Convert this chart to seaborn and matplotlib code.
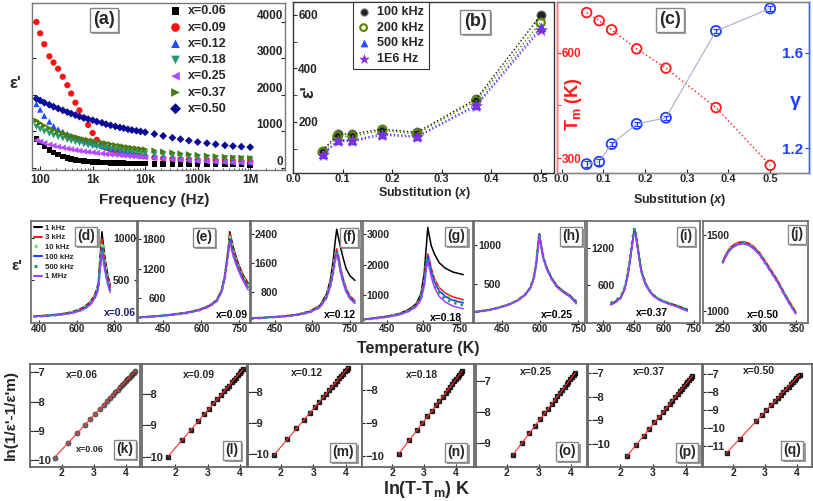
import matplotlib
matplotlib.use('Agg')
import matplotlib.pyplot as plt
import matplotlib.patheffects as pe
from matplotlib.lines import Line2D
import seaborn as sns

# ---------------- data: panel (a) ----------------
freq = [85, 100, 120, 150, 180, 220, 270, 330, 390, 470, 560, 680, 820, 1000, 1200,
        1500, 1800, 2200, 2700, 3300, 3900, 4700, 5600, 6800, 8200, 10000, 15000,
        22000, 33000, 47000, 68000, 100000, 150000, 220000, 330000, 470000, 680000, 1000000]
a_x006 = [800, 700, 600, 500, 430, 370, 320, 280, 250, 225, 205, 190, 178, 168, 160, 153, 147, 142, 138,
          134, 131, 128, 126, 124, 122, 120, 116, 113, 110, 107, 104, 101, 98, 96, 94, 92, 90, 88]
a_x009 = [4000, 3690, 3390, 3060, 2890, 2720, 2500, 2270, 2040, 1790, 1580, 1380, 1180, 960, 770, 620, 550,
          500, 470, 445, 425, 410, 390, 360, 335, 320, 290, 265, 250, 240, 230, 220, 210, 200, 195, 190, 185, 180]
a_x012 = [1750, 1600, 1430, 1270, 1150, 1060, 990, 930, 880, 840, 800, 760, 720, 690, 650, 610, 580, 550,
          520, 490, 470, 450, 430, 410, 390, 370, 340, 310, 285, 265, 245, 230, 215, 200, 190, 180, 170, 160]
a_x018 = [1130, 1060, 1000, 940, 890, 850, 810, 770, 740, 710, 680, 650, 620, 600, 580, 555, 535, 515,
          495, 475, 460, 445, 430, 415, 400, 390, 370, 350, 335, 320, 305, 295, 285, 275, 268, 262, 256, 250]
a_x025 = [760, 720, 680, 640, 610, 580, 555, 530, 510, 490, 470, 455, 440, 425, 410, 395, 380, 370, 360,
          350, 340, 330, 320, 310, 300, 290, 270, 250, 235, 220, 205, 190, 178, 168, 158, 150, 143, 135]
a_x037 = [1300, 1230, 1160, 1090, 1040, 990, 950, 910, 880, 850, 820, 790, 770, 750, 725, 700, 680, 655,
          630, 610, 590, 570, 555, 540, 525, 510, 480, 450, 425, 400, 380, 360, 340, 320, 305, 290, 280, 270]
a_x050 = [1900, 1850, 1790, 1730, 1680, 1630, 1580, 1530, 1490, 1450, 1410, 1370, 1340, 1310, 1270, 1240,
          1200, 1170, 1140, 1110, 1090, 1060, 1040, 1020, 1000, 980, 930, 880, 830, 790, 750, 710, 680, 650,
          620, 600, 585, 570]
a_labels = ['x=0.06', 'x=0.09', 'x=0.12', 'x=0.18', 'x=0.25', 'x=0.37', 'x=0.50']

# ---------------- data: panel (b) ----------------
sub_x = [0.06, 0.09, 0.12, 0.18, 0.25, 0.37, 0.50]
b_100k = [93, 155, 155, 173, 161, 286, 598]
b_200k = [87, 146, 146, 168, 155, 279, 571]
b_500k = [79, 131, 131, 156, 146, 264, 554]
b_1M = [75, 127, 127, 150, 143, 258, 544]
b_labels = ['100 kHz', '200 kHz', '500 kHz', '1E6 Hz']

# ---------------- data: panel (c) ----------------
c_Tm = [714, 691, 665, 611, 556, 444, 280]
c_gamma = [1.134, 1.144, 1.218, 1.302, 1.328, 1.691, 1.785]
c_gamma_err = [0.012, 0.012, 0.008, 0.008, 0.008, 0.008, 0.012]

# ---------------- data: panels (d)-(j) ----------------
freq_labels = ['1 kHz', '3 kHz', '10 kHz', '100 kHz', '500 kHz', '1 MHz']
d_T = [370, 420, 470, 520, 570, 610, 640, 670, 690, 705, 715, 722, 728, 734, 740, 748, 757, 767, 778]
d_eps = [
    [65, 72, 82, 95, 115, 145, 180, 235, 300, 380, 480, 720, 900, 1080, 950, 800, 660, 540, 440],
    [64, 71, 80, 93, 112, 140, 173, 226, 290, 365, 460, 680, 840, 995, 880, 750, 620, 510, 415],
    [63, 70, 79, 91, 110, 137, 169, 220, 285, 355, 450, 660, 810, 955, 850, 725, 600, 495, 405],
    [62, 68, 77, 88, 106, 131, 161, 210, 275, 340, 430, 620, 760, 885, 790, 680, 565, 465, 385],
    [61, 67, 75, 86, 103, 127, 156, 203, 268, 330, 420, 600, 730, 845, 760, 650, 540, 445, 365],
    [60, 66, 74, 85, 101, 124, 152, 198, 262, 322, 410, 585, 710, 825, 740, 630, 525, 430, 350]]
e_T = [355, 420, 480, 540, 590, 630, 660, 680, 692, 702, 708, 712, 718, 726, 736, 748, 760, 772, 785]
e_eps = [
    [214, 240, 270, 310, 370, 450, 565, 780, 1060, 1450, 1720, 1955, 1820, 1640, 1460, 1280, 1130, 1010, 905],
    [213, 238, 268, 307, 366, 445, 558, 768, 1040, 1420, 1680, 1910, 1770, 1590, 1420, 1250, 1100, 985, 880],
    [212, 237, 266, 305, 363, 441, 552, 758, 1025, 1400, 1650, 1870, 1735, 1555, 1385, 1220, 1075, 960, 850],
    [211, 235, 264, 302, 360, 437, 546, 748, 1010, 1375, 1610, 1810, 1680, 1510, 1350, 1190, 1050, 935, 820],
    [210, 234, 262, 300, 357, 433, 541, 740, 1000, 1360, 1590, 1780, 1655, 1490, 1330, 1170, 1030, 915, 800],
    [209, 233, 261, 298, 354, 430, 536, 732, 990, 1345, 1570, 1740, 1620, 1460, 1300, 1145, 1005, 890, 770]]
f_T = [355, 420, 480, 540, 590, 630, 657, 672, 683, 690, 697, 704, 712, 722, 735, 750, 770]
f_eps = [
    [71, 100, 130, 180, 270, 430, 756, 1150, 1670, 2150, 2537, 2300, 2050, 1760, 1440, 1250, 1120],
    [70, 98, 127, 175, 260, 410, 700, 1050, 1450, 1800, 2000, 1820, 1500, 1200, 900, 700, 565],
    [69, 97, 125, 172, 255, 400, 690, 1030, 1420, 1760, 1960, 1780, 1460, 1165, 870, 675, 545],
    [68, 95, 122, 168, 248, 390, 670, 1000, 1380, 1700, 1920, 1740, 1420, 1130, 845, 650, 525],
    [67, 94, 120, 165, 243, 382, 655, 980, 1350, 1660, 1880, 1700, 1385, 1100, 820, 630, 505],
    [66, 93, 119, 163, 240, 377, 645, 965, 1330, 1640, 1860, 1670, 1355, 1075, 800, 610, 485]]
g_T = [350, 400, 450, 500, 540, 570, 590, 603, 612, 618, 624, 632, 645, 665, 690, 720, 763]
g_eps = [
    [205, 260, 320, 400, 540, 720, 1050, 1700, 2600, 3218, 2950, 2620, 2350, 2060, 1880, 1760, 1675],
    [204, 255, 310, 385, 510, 670, 950, 1450, 2100, 2350, 2200, 1900, 1550, 1250, 1070, 950, 857],
    [203, 252, 305, 378, 500, 655, 920, 1400, 2030, 2280, 2120, 1820, 1470, 1170, 990, 870, 780],
    [202, 250, 302, 374, 495, 648, 905, 1380, 2000, 2275, 2100, 1790, 1440, 1140, 960, 840, 750],
    [201, 247, 298, 368, 487, 635, 880, 1340, 1940, 2165, 2000, 1700, 1360, 1060, 880, 760, 675],
    [200, 244, 294, 362, 480, 625, 860, 1300, 1880, 2100, 1920, 1610, 1260, 960, 780, 650, 560]]
h_T = [346, 400, 444, 480, 510, 540, 562, 575, 585, 592, 597, 603, 612, 626, 645, 665, 690, 718, 742]
h_eps = [
    [139, 165, 202, 240, 286, 360, 456, 580, 780, 1000, 1150, 1030, 860, 710, 580, 480, 410, 350, 275],
    [138, 164, 201, 239, 285, 358, 453, 576, 775, 992, 1145, 1025, 855, 705, 576, 476, 405, 345, 268],
    [138, 164, 200, 238, 284, 357, 451, 574, 772, 988, 1140, 1020, 851, 702, 573, 473, 402, 341, 262],
    [137, 163, 199, 237, 283, 355, 448, 570, 766, 980, 1130, 1012, 845, 697, 568, 469, 398, 337, 256],
    [138, 164, 201, 239, 285, 358, 453, 578, 778, 996, 1160, 1035, 860, 708, 577, 475, 403, 340, 258],
    [136, 162, 198, 236, 281, 352, 445, 566, 760, 970, 1120, 1004, 838, 690, 562, 463, 393, 332, 245]]
i_T = [337, 360, 386, 405, 419, 432, 442, 450, 455, 461, 470, 482, 492, 510, 530, 548, 580, 620, 660, 717]
i_eps = [
    [300, 340, 404, 540, 736, 1000, 1250, 1430, 1486, 1420, 1220, 950, 789, 620, 510, 441, 370, 320, 280, 213],
    [295, 335, 400, 535, 728, 990, 1235, 1410, 1465, 1400, 1205, 940, 780, 613, 505, 436, 365, 314, 273, 205],
    [310, 350, 412, 548, 745, 1010, 1262, 1445, 1500, 1432, 1228, 955, 792, 622, 512, 443, 371, 320, 278, 208],
    [290, 330, 396, 530, 720, 980, 1222, 1395, 1450, 1386, 1195, 932, 774, 608, 500, 432, 361, 310, 268, 198],
    [315, 355, 416, 552, 750, 1015, 1270, 1455, 1510, 1440, 1232, 958, 794, 623, 512, 442, 369, 317, 274, 200],
    [285, 325, 392, 525, 712, 970, 1210, 1380, 1430, 1370, 1185, 925, 768, 602, 495, 427, 355, 303, 260, 185]]
j_T = [250, 255, 260, 266, 272, 278, 285, 292, 300, 308, 316, 324, 332, 340, 349]
j_eps = [
    [1324, 1375, 1413, 1435, 1448, 1452, 1443, 1420, 1380, 1322, 1262, 1202, 1130, 1062, 991],
    [1328, 1380, 1418, 1441, 1454, 1458, 1449, 1426, 1386, 1328, 1268, 1208, 1136, 1068, 996],
    [1322, 1372, 1410, 1432, 1445, 1449, 1440, 1417, 1377, 1319, 1259, 1199, 1127, 1059, 988],
    [1320, 1370, 1408, 1430, 1443, 1447, 1438, 1415, 1375, 1317, 1257, 1197, 1125, 1057, 986],
    [1318, 1368, 1406, 1428, 1441, 1445, 1436, 1413, 1373, 1315, 1255, 1195, 1123, 1055, 984],
    [1316, 1366, 1404, 1426, 1439, 1443, 1434, 1411, 1371, 1313, 1253, 1193, 1121, 1053, 982]]

# ---------------- data: panels (k)-(q) ----------------
k_x = [1.79, 2.20, 2.48, 2.71, 2.89, 3.04, 3.18, 3.30, 3.40, 3.50, 3.58, 3.66, 3.74, 3.81, 3.87, 3.93,
       3.99, 4.04, 4.09, 4.14, 4.19, 4.23, 4.28]
k_y = [-9.92, -9.41, -9.07, -8.80, -8.59, -8.41, -8.25, -8.11, -7.99, -7.87, -7.78, -7.68, -7.59, -7.51,
       -7.44, -7.37, -7.30, -7.24, -7.18, -7.12, -7.06, -7.01, -6.96]
l_x = [1.79, 2.20, 2.48, 2.71, 2.89, 3.04, 3.18, 3.30, 3.40, 3.50, 3.58, 3.66, 3.74, 3.81, 3.87, 3.93, 3.99, 4.04, 4.09]
l_y = [-10.0, -9.48, -9.14, -8.86, -8.64, -8.46, -8.29, -8.15, -8.03, -7.91, -7.81, -7.72, -7.62, -7.54,
       -7.47, -7.39, -7.32, -7.26, -7.20]
m_x = [1.79, 2.20, 2.48, 2.71, 2.89, 3.04, 3.18, 3.30, 3.40, 3.50, 3.58, 3.66, 3.74, 3.81, 3.87, 3.93, 3.99, 4.04, 4.09]
m_y = [-10.05, -9.52, -9.18, -8.90, -8.68, -8.49, -8.32, -8.17, -8.05, -7.93, -7.83, -7.73, -7.64, -7.55,
       -7.48, -7.40, -7.33, -7.27, -7.21]
n_x = [2.20, 2.53, 2.77, 2.95, 3.11, 3.25, 3.38, 3.49, 3.59, 3.68, 3.76, 3.83, 3.90, 3.96, 4.02, 4.07, 4.12, 4.17, 4.21]
n_y = [-9.95, -9.53, -9.23, -9.00, -8.80, -8.62, -8.46, -8.32, -8.19, -8.08, -7.98, -7.89, -7.80, -7.72,
       -7.65, -7.58, -7.52, -7.46, -7.41]
o_x = [2.20, 2.48, 2.71, 2.89, 3.04, 3.18, 3.30, 3.40, 3.50, 3.58, 3.66, 3.74, 3.81, 3.87, 3.93, 3.99, 4.04, 4.09, 4.14]
o_y = [-9.39, -9.00, -8.69, -8.45, -8.25, -8.06, -7.90, -7.76, -7.62, -7.51, -7.40, -7.29, -7.20, -7.12,
       -7.04, -6.95, -6.89, -6.82, -6.75]
p_x = [2.20, 2.48, 2.71, 2.89, 3.04, 3.18, 3.30, 3.40, 3.50, 3.58, 3.66, 3.74, 3.81, 3.87, 3.93, 3.99, 4.04,
       4.09, 4.14, 4.19]
p_y = [-10.54, -10.06, -9.67, -9.36, -9.10, -8.86, -8.65, -8.48, -8.31, -8.17, -8.03, -7.90, -7.78, -7.67,
       -7.57, -7.47, -7.38, -7.30, -7.21, -7.13]
q_x = [1.79, 2.20, 2.71, 2.89, 3.04, 3.18, 3.30, 3.40, 3.50, 3.58, 3.66, 3.74, 3.81, 3.87, 3.93, 3.99, 4.04, 4.09]
q_y = [-11.36, -10.58, -9.62, -9.28, -9.00, -8.73, -8.51, -8.32, -8.13, -7.98, -7.83, -7.68, -7.55, -7.43,
       -7.32, -7.21, -7.11, -7.02]

# ---------------- style ----------------
sns.set_style('ticks')
plt.rcParams['font.family'] = ['Liberation Sans', 'DejaVu Sans']
plt.rcParams['font.weight'] = 'bold'
plt.rcParams['axes.labelweight'] = 'bold'
plt.rcParams['mathtext.fontset'] = 'custom'
plt.rcParams['mathtext.rm'] = 'Liberation Sans:bold'
plt.rcParams['mathtext.it'] = 'Liberation Sans:italic:bold'
plt.rcParams['mathtext.bf'] = 'Liberation Sans:bold'

W, H = 813, 501
fig = plt.figure(figsize=(W / 100, H / 100), dpi=100)


def add_ax(l, r, t, b):
    return fig.add_axes([l / W, 1 - b / H, (r - l) / W, (b - t) / H])


def ftext(x, y, s, **kw):
    kw.setdefault('ha', 'center')
    kw.setdefault('va', 'center')
    kw.setdefault('fontweight', 'bold')
    return fig.text(x / W, 1 - y / H, s, **kw)


def boxlabel(x, y, s, size):
    t = ftext(x, y, s, fontsize=size,
              bbox=dict(boxstyle='square,pad=0.18', fc='white', ec='#888888', lw=1.0))
    t.get_bbox_patch().set_path_effects(
        [pe.withSimplePatchShadow(offset=(1.6, -1.6), shadow_rgbFace='#9a9a9a', alpha=1.0)])
    return t


def spines(ax, color='#666666', lw=1.2):
    for s in ax.spines.values():
        s.set_color(color)
        s.set_linewidth(lw)


# ================= panel (a) =================
axa = add_ax(32, 285, 3, 170)
axa.set_xscale('log')
a_series = [a_x006, a_x009, a_x012, a_x018, a_x025, a_x037, a_x050]
a_markers = ['s', 'o', '^', 'v', '<', '>', 'D']
a_colors = ['#000000', '#ff1010', '#1f4fff', '#2a9a6c', '#b44cff', '#4a7a10', '#0a0a99']
a_sizes = [16, 20, 20, 20, 20, 20, 16]
for vals, m, c, sz, lab in zip(a_series, a_markers, a_colors, a_sizes, a_labels):
    sns.scatterplot(x=freq, y=vals, ax=axa, marker=m, s=sz, color=c, edgecolor='none',
                    linewidth=0, label=lab)
axa.set_xlim(70, 4.6e6)
axa.set_ylim(-55, 4520)
axa.set_xticks([100, 1e3, 1e4, 1e5, 1e6], ['100', '1k', '10k', '100k', '1M'])
axa.set_yticks([0, 1000, 2000, 3000, 4000])
axa.tick_params(axis='x', which='major', direction='in', length=3, pad=3, labelsize=8.5)
axa.tick_params(axis='x', which='minor', direction='in', length=1.5)
axa.tick_params(axis='y', direction='in', length=3, left=True, right=True, labelleft=False,
                labelright=True, pad=-1.5, labelsize=8.5)
plt.setp(axa.get_yticklabels(), ha='right', va='bottom')
axa.set(xlabel='', ylabel='')
spines(axa, '#777777', 1.0)
axa.legend(loc='upper left', bbox_to_anchor=((168 - 32) / 253, 1 - (3 - 3) / 167), frameon=False,
           handlelength=0.8, handletextpad=0.6, labelspacing=0.34, borderaxespad=0,
           borderpad=0.2, markerscale=1.4, prop={'weight': 'bold', 'size': 9})
ftext(15, 84, "ε'", fontsize=12)
ftext(154, 200, 'Frequency (Hz)', fontsize=11)
boxlabel(104, 20, '(a)', 13)

# ================= panel (b) =================
axb = add_ax(293, 554, 2, 173)
b_series = [b_100k, b_200k, b_500k, b_1M]
b_markers = ['o', 'o', '^', '*']
b_colors = ['#111111', '#5b8c00', '#1f4fff', '#8a2be2']
b_face = ['#222222', 'none', '#1f4fff', '#8a2be2']
b_edge = ['#777777', '#5b8c00', '#1f4fff', '#8a2be2']
b_sizes = [42, 36, 42, 80]
b_lw = [0.8, 1.6, 0.3, 0.3]
for vals, c in zip(b_series, b_colors):
    sns.lineplot(x=sub_x, y=vals, ax=axb, color=c, linestyle=':', linewidth=1.0, sort=False)
for vals, m, c, fc, ec, sz, lw, lab in zip(b_series, b_markers, b_colors, b_face, b_edge, b_sizes, b_lw, b_labels):
    sns.scatterplot(x=sub_x, y=vals, ax=axb, marker=m, s=sz, color=c, facecolor=fc, edgecolor=ec,
                    linewidth=lw, label=lab)
axb.set_xlim(0, 0.527)
axb.set_ylim(9, 648)
axb.set_xticks([0.0, 0.1, 0.2, 0.3, 0.4, 0.5], ['0.0', '0.1', '0.2', '0.3', '0.4', '0.5'])
axb.set_yticks([200, 400, 600])
axb.set_yticks([100, 300, 500], minor=True)
axb.tick_params(axis='x', direction='in', length=3, pad=1, labelsize=8)
axb.tick_params(axis='y', which='both', direction='in', length=3, pad=-3.8, labelsize=8.5)
plt.setp(axb.get_yticklabels(), ha='left')
axb.set(xlabel='', ylabel='')
spines(axb, '#333333', 1.0)
leg = axb.legend(loc='upper left', bbox_to_anchor=((353 - 293) / 261, 1.0), frameon=True, fancybox=False,
                 edgecolor='#333333', framealpha=1, handlelength=1.0, handletextpad=0.6,
                 labelspacing=0.28, borderaxespad=0, borderpad=0.35, markerscale=0.8,
                 prop={'weight': 'bold', 'size': 9})
leg.get_frame().set_linewidth(0.8)
ftext(309, 92, "ε'", fontsize=13, rotation=90)
ftext(425, 193, 'Substitution ($x$)', fontsize=9)
boxlabel(475, 22, '(b)', 13)

# ================= panel (c) =================
axc = add_ax(557, 809, 2, 173)
sns.lineplot(x=sub_x, y=c_Tm, ax=axc, color='#ff3030', linestyle=':', linewidth=1.1, sort=False)
sns.scatterplot(x=sub_x, y=c_Tm, ax=axc, marker='o', s=48, color='#ff1a1a', facecolor='none',
                edgecolor='#ff1a1a', linewidth=1.3)
axc.set_xlim(-0.011, 0.593)
axc.set_ylim(258, 744)
axc.set_xticks([0.0, 0.1, 0.2, 0.3, 0.4, 0.5], ['0.0', '0.1', '0.2', '0.3', '0.4', '0.5'])
axc.set_yticks([300, 600])
axc.set_yticks([450], minor=True)
axc.tick_params(axis='x', direction='in', length=3, pad=1, labelsize=8)
axc.tick_params(axis='y', which='both', direction='in', length=3, pad=-3.5, labelsize=8.5,
                colors='#ff2020')
plt.setp(axc.get_yticklabels(), ha='left')
axc.set(xlabel='', ylabel='')
axc2 = axc.twinx()
sns.lineplot(x=sub_x, y=c_gamma, ax=axc2, color='#a8aec8', linewidth=0.8, sort=False)
axc2.errorbar(sub_x, c_gamma, yerr=c_gamma_err, fmt='none', ecolor='#1f3fff', elinewidth=0.8,
              capsize=2, capthick=0.8)
sns.scatterplot(x=sub_x, y=c_gamma, ax=axc2, marker='o', s=52, color='#1f3fff', facecolor='none',
                edgecolor='#1f3fff', linewidth=1.3)
axc2.set_ylim(1.097, 1.812)
axc2.set_yticks([1.2, 1.6], ['1.2', '1.6'])
axc2.tick_params(axis='y', direction='in', length=3, pad=-4.2, labelsize=11, colors='#1f3fff')
plt.setp(axc2.get_yticklabels(), ha='right')
axc2.set(xlabel='', ylabel='')
for ax_ in (axc, axc2):
    spines(ax_, '#888888', 1.0)
    ax_.spines['left'].set_color('#ff7070')
    ax_.spines['right'].set_color('#4060ff')
ftext(573, 104, 'T$_\\mathrm{m}$ (K)', fontsize=13, rotation=90, color='#ff1a1a')
ftext(795, 101, 'γ', fontsize=14, color='#1f3fff')
ftext(680, 200, 'Substitution ($x$)', fontsize=9)
boxlabel(670, 20, '(c)', 13)

# ================= panels (d)-(j) =================
line_colors = ['#000000', '#ff1a1a', '#6cf06c', '#1a3cff', '#1f9a5a', '#a040ff']
line_styles = ['-', '-', ':', '-', ':', '-']
line_widths = [1.1, 1.1, 2.0, 1.1, 1.8, 1.1]
row2 = [
    ('(d)', 'x=0.06', d_T, d_eps, (30.7, 136.7), (354, 919), (-16, 1208), [400, 600, 800], [500, 1000], (86, 236), (120, 313)),
    ('(e)', 'x=0.09', e_T, e_eps, (138.3, 250), (351, 792), (99, 2172), [450, 600, 750], [600, 1200, 1800], (204, 237), (232, 315)),
    ('(f)', 'x=0.12', f_T, f_eps, (250.7, 360.7), (353, 793), (-58, 2765), [450, 600, 750], [800, 1600, 2400], (349, 237), (340, 315)),
    ('(g)', 'x=0.18', g_T, g_eps, (362.7, 473.3), (352, 804), (97, 3424), [450, 600, 750], [1000, 2000, 3000], (456, 236), (446, 318)),
    ('(h)', 'x=0.25', h_T, h_eps, (474, 585), (341, 776), (-4, 1314), [450, 600, 750], [500, 1000], (571, 236), (557, 315)),
    ('(i)', 'x=0.37', i_T, i_eps, (587.3, 700), (220, 780), (-4, 1623), [300, 450, 600, 750], [600, 1200], (686, 236), (652, 313)),
    ('(j)', 'x=0.50', j_T, j_eps, (702.7, 808.3), (223, 366), (922, 1593), [250, 300, 350], [1000, 1500], (797, 234), (763, 315)),
]
for lab, xt, T, eps, (l, r), xl, yl, xtk, ytk, bpos, tpos in row2:
    ax = add_ax(l, r, 221, 323)
    for vals, c, ls, lw in zip(eps, line_colors, line_styles, line_widths):
        sns.lineplot(x=T, y=vals, ax=ax, color=c, linestyle=ls, linewidth=lw, sort=False)
    ax.set_xlim(*xl)
    ax.set_ylim(*yl)
    ax.set_xticks(xtk)
    ax.set_yticks(ytk)
    ax.tick_params(axis='x', direction='in', length=2.5, pad=1, labelsize=7)
    if lab == '(d)':
        ax.tick_params(axis='y', direction='in', length=2.5, left=True, right=True, labelleft=False,
                       labelright=True, pad=-17, labelsize=7.5)
    else:
        ax.tick_params(axis='y', direction='in', length=2.5, pad=-19.5, labelsize=7.5)
    ax.set(xlabel='', ylabel='')
    spines(ax, '#666666', 1.2)
    boxlabel(bpos[0], bpos[1], lab, 10)
    ftext(tpos[0], tpos[1], xt, fontsize=7.5, color='#1a1a6e' if lab == '(d)' else 'black')
    if lab == '(d)':
        handles = [Line2D([], [], color=c, linestyle=ls, linewidth=lw + 0.4)
                   for c, ls, lw in zip(line_colors, line_styles, line_widths)]
        ax.legend(handles, freq_labels, loc='upper left', bbox_to_anchor=(0.0, 1.0), frameon=False,
                  handlelength=1.1, handletextpad=0.3, labelspacing=0.3, borderaxespad=0.1,
                  borderpad=0.3, prop={'weight': 'bold', 'size': 5.6})
ftext(17, 266, "ε'", fontsize=11)
ftext(418, 349, 'Temperature (K)', fontsize=11.5)

# ================= panels (k)-(q) =================
row3 = [
    ('(k)', 'x=0.06', k_x, k_y, (30, 140), (1.016, 4.43), (-10.24, -6.71), [-10, -9, -8, -7], (125, 449), (82, 375)),
    ('(l)', 'x=0.09', l_x, l_y, (141.7, 246.7), (0.975, 4.2), (-10.33, -7.03), [-10, -9, -8], (232, 450), (199, 375)),
    ('(m)', 'x=0.12', m_x, m_y, (247.7, 361.7), (0.97, 4.5), (-10.43, -7.09), [-10, -9, -8], (343, 452), (307, 373)),
    ('(n)', 'x=0.18', n_x, n_y, (362.3, 474.3), (1.05, 4.59), (-10.35, -7.19), [-10, -9, -8], (456, 452), (422, 375)),
    ('(o)', 'x=0.25', o_x, o_y, (476, 586.7), (1.04, 4.5), (-9.79, -6.46), [-9, -8, -7], (567, 451), (536, 372)),
    ('(p)', 'x=0.37', p_x, p_y, (588.3, 701.7), (1.04, 4.47), (-10.99, -6.62), [-10, -9, -8, -7], (687, 452), (649, 372)),
    ('(q)', 'x=0.50', q_x, q_y, (703.3, 811.7), (1.05, 4.47), (-12.15, -6.43), [-11, -10, -9, -8, -7], (792, 450), (759, 371)),
]
for lab, xt, lx, ly, (l, r), xl, yl, ytk, bpos, tpos in row3:
    ax = add_ax(l, r, 364, 467)
    if lab == '(k)':
        skw = {'s': 14, 'color': '#444444', 'edgecolor': '#222222', 'linewidths': 0.4}
        mk = 'o'
    else:
        skw = {'s': 10, 'color': 'black'}
        mk = 's'
    sns.regplot(x=lx, y=ly, ax=ax, ci=None, marker=mk, color='black', scatter_kws=skw,
                line_kws={'color': '#ff3030', 'linewidth': 0.8})
    ax.set_xlim(*xl)
    ax.set_ylim(*yl)
    ax.set_xticks([2, 3, 4])
    ax.set_yticks(ytk)
    ax.tick_params(axis='x', direction='in', length=2.5, pad=0.8, labelsize=7.5)
    ax.tick_params(axis='y', direction='in', length=2.5, pad=-2.0, labelsize=8)
    plt.setp(ax.get_yticklabels(), ha='left')
    ax.set(xlabel='', ylabel='')
    spines(ax, '#666666', 1.3)
    boxlabel(bpos[0], bpos[1], lab, 10)
    ftext(tpos[0], tpos[1], xt, fontsize=7.5)
ftext(90, 449, 'x=0.06', fontsize=6.5)
ftext(11, 415, "ln(1/ε'-1/ε'm)", fontsize=11, rotation=90)
ftext(427, 490, 'ln(T-T$_\\mathrm{m}$) K', fontsize=13)

fig.savefig('out.png', dpi=100)
